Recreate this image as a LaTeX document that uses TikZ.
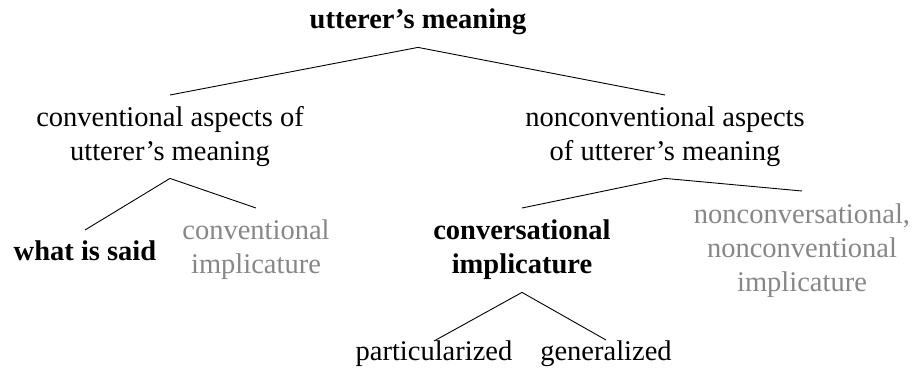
\documentclass[tikz,border=0pt]{standalone}
\usepackage{fontspec}
\usepackage{tikz}
\usepackage{color}
\setmainfont{Liberation Serif}
\definecolor{paletext}{gray}{0.53}

\begin{document}
\begin{tikzpicture}[x=1pt,y=-1pt]
        \tikzstyle{term}=[anchor=north,inner sep=0pt,align=center,font=\fontsize{28.5}{34}\selectfont]
        \tikzstyle{key term}=[term,font=\fontsize{28.5}{34}\selectfont\bfseries]
        \tikzstyle{side term}=[term,text=paletext]
        \tikzstyle{branch}=[line width=0.9pt]
        \useasboundingbox (0,0) rectangle (919,378);

        \node[key term] (meaning) at (418,4.2) {\strut utterer's meaning};
        \node[term] (conv) at (170,102.2) {\strut conventional aspects of\\\strut utterer's meaning};
        \node[term] (nonconv) at (665,102.2) {\strut nonconventional aspects\\\strut of utterer's meaning};
        \node[key term] (said) at (85,236.2) {\strut what is said};
        \node[side term] (convimp) at (256,215.2) {\strut conventional\\\strut implicature};
        \node[key term] (conversimp) at (522,215.2) {\strut conversational\\\strut implicature};
        \node[side term] (otherimp) at (802,199.2) {\strut nonconversational,\\\strut nonconventional\\\strut implicature};
        \node[term] (partic) at (434,336.2) {\strut particularized};
        \node[term] (general) at (606,336.2) {\strut generalized};

        \draw[branch] ([yshift=7.2pt]conv.north) -- ([yshift=-8.8pt]meaning.south) -- ([yshift=7.2pt]nonconv.north);
        \draw[branch] ([yshift=6.2pt]said.north) -- ([yshift=-7.8pt]conv.south) -- ([yshift=7.2pt]convimp.north);
        \draw[branch] ([yshift=7.2pt]conversimp.north) -- ([yshift=-7.8pt]nonconv.south) -- ([yshift=8.2pt]otherimp.north);
        \draw[branch] ([yshift=-4.8pt]partic.north) -- ([yshift=-8.8pt]conversimp.south) -- ([yshift=-3.8pt]general.north);
    \end{tikzpicture}
\end{document}
